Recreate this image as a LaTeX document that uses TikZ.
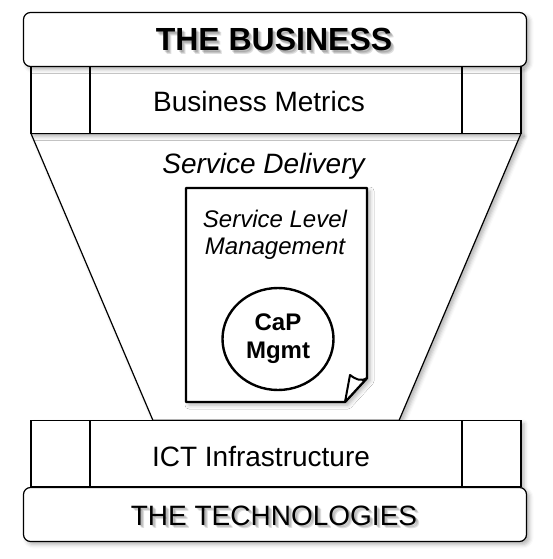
\documentclass[tikz,border=0pt]{standalone}
\usepackage{fontspec}
\setmainfont{Liberation Sans}
\usetikzlibrary{calc,shadows.blur,shapes.geometric}

\tikzset{
  softshadow/.style={blur shadow={shadow xshift=3pt, shadow yshift=-3pt, shadow blur radius=4pt, shadow opacity=30}},
  band/.style={draw, line width=1.2pt, fill=white, rounded corners=7pt, minimum width=503pt, minimum height=54pt, softshadow},
  layer/.style={draw, line width=1.2pt, fill=white, minimum width=490pt, minimum height=67pt, softshadow},
  lbl/.style={anchor=base, font=\fontsize{28}{32}\selectfont},
}

% Text with a soft grey glow behind it
% #1=name, #2=position, #3=font, #4=text
\newcommand{\softtext}[4]{
  \foreach \d in {1.5,2.5,3.5} {
    \node[lbl, font=#3, text=black, opacity=0.12] at ($(#2)+(\d,\d)$) {#4};
  }
  \node[lbl, font=#3] (#1) at (#2) {#4};
}

\begin{document}
\begin{tikzpicture}[x=1pt, y=-1pt]
\useasboundingbox (0,0) rectangle (553,559);

% ── Service delivery funnel ──
\draw[line width=1.2pt, fill=white, softshadow] (31,133.5) -- (521,133.5) -- (399,420.5) -- (153,420.5) -- cycle;

% ── Business side ──
\node[layer] (metrics) at (276,100) {};
\foreach \x in {90,462} {
  \draw[line width=1.2pt] (\x,66.5) -- (\x,133.5);
}
\node[band] (business) at (275,39.5) {};
\softtext{businesslbl}{274,51}{\fontsize{32}{36}\selectfont\bfseries}{THE BUSINESS}
\node[lbl] (metricslbl) at (259,112) {Business Metrics};

\node[lbl, font=\fontsize{28}{32}\selectfont\itshape] (delivery) at (263.5,173) {Service Delivery};

% ── Technology side ──
\node[layer, minimum height=66pt] (ict) at (276,453.5) {};
\foreach \x in {90,462} {
  \draw[line width=1.2pt] (\x,420.5) -- (\x,486.5);
}
\node[lbl] (ictlbl) at (261,466) {ICT Infrastructure};
\node[band] (tech) at (275,514.5) {};
\softtext{techlbl}{274,525}{\fontsize{28}{32}\selectfont}{THE TECHNOLOGIES}

% ── SLM document with folded corner ──
\draw[line width=2.4pt, fill=white, line join=round, softshadow] (186,188) -- (367,188) -- (367,378) -- (345,402) -- (186,402) -- cycle;
\draw[line width=2pt, fill=white, line join=round] (367,378) .. controls (361,382) and (355,379) .. (350,375) -- (345,402) -- cycle;
\node[align=center, font=\fontsize{24}{27}\selectfont\itshape] (slm) at (275,235) {Service Level\\Management};

% ── Capacity management ──
\node[ellipse, draw, line width=2.4pt, fill=white, minimum width=111pt, minimum height=102pt, inner sep=0pt,
      align=center, font=\fontsize{24}{28}\selectfont\bfseries] (capmgmt) at (278,339) {CaP\\Mgmt};

\end{tikzpicture}
\end{document}
